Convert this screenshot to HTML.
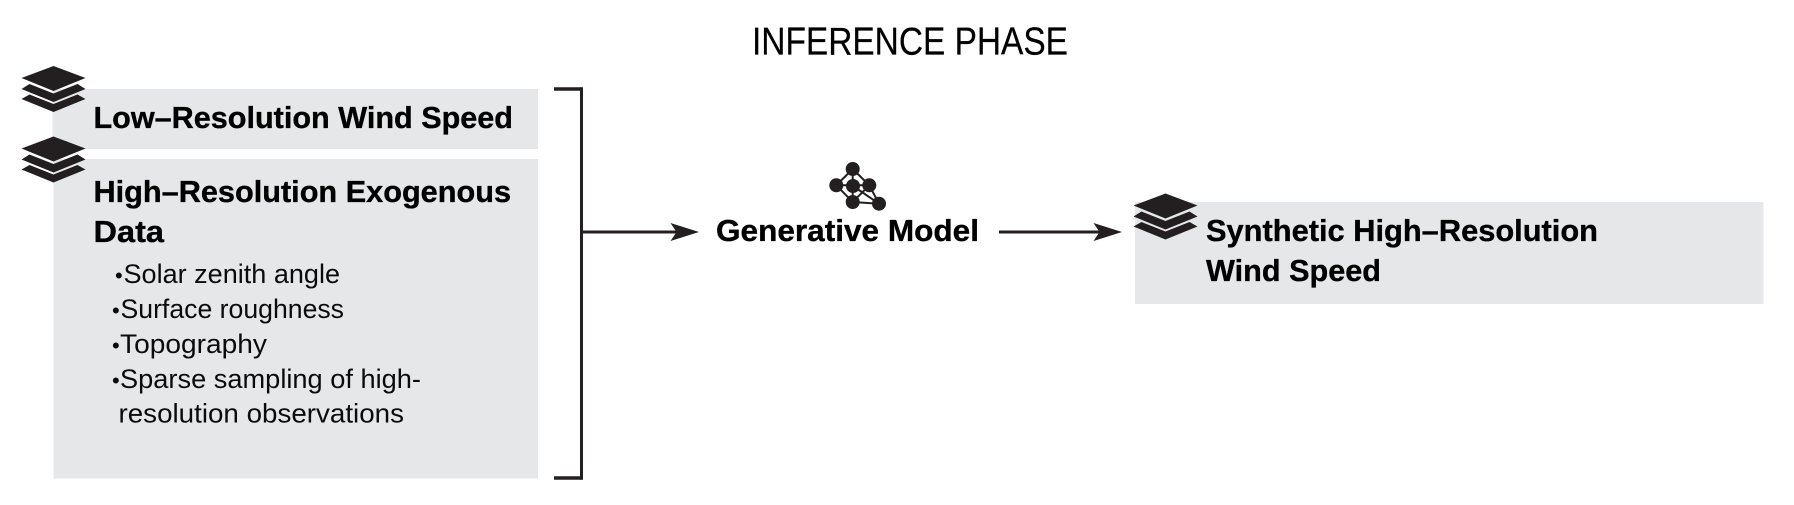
<!DOCTYPE html>
<html>
<head>
<meta charset="utf-8">
<style>
html,body{margin:0;padding:0;background:#fff;}
svg{display:block;}
text{font-family:"Liberation Sans",sans-serif;fill:#000;}
.b{font-weight:700;font-size:31px;stroke:#000;stroke-width:.35px;}
.r{font-size:27px;fill:#0b0b0b;}
.d{font-size:22px;fill:#0b0b0b;}
</style>
</head>
<body>
<svg width="1794" height="505" viewBox="0 0 1794 505" xmlns="http://www.w3.org/2000/svg">
<defs>
<g id="stack" fill="#231f20">
<path d="M32 0 L64 12 L32 25 L0 12 Z"/>
<path d="M8 18 L32 27.5 L56 18 L64 23 L32 36 L0 23 Z"/>
<path d="M8 28.5 L32 38 L56 28.5 L64 33 L32 46 L0 33 Z"/>
</g>
</defs>
<rect width="1794" height="505" fill="#fff"/>

<text x="752" y="54.5" style="font-size:39px;stroke:#000;stroke-width:.2px" textLength="316" lengthAdjust="spacingAndGlyphs">INFERENCE PHASE</text>

<rect x="52.5" y="89" width="485.5" height="60" fill="#e6e7e8"/>
<rect x="53.5" y="159" width="484.5" height="319.5" fill="#e6e7e8"/>
<rect x="1135" y="202" width="628.5" height="102" fill="#e6e7e8"/>

<use href="#stack" x="21.5" y="66"/>
<use href="#stack" x="21.5" y="136.5"/>
<use href="#stack" x="1133.5" y="193.5"/>

<text class="b" x="93.5" y="128" textLength="419.5" lengthAdjust="spacingAndGlyphs">Low–Resolution Wind Speed</text>
<text class="b" x="93.5" y="202" textLength="417.5" lengthAdjust="spacingAndGlyphs">High–Resolution Exogenous</text>
<text class="b" x="93.5" y="242" textLength="70.5" lengthAdjust="spacingAndGlyphs">Data</text>

<text class="d" x="115" y="283">•</text>
<text class="r" x="123.5" y="283" textLength="216.5" lengthAdjust="spacingAndGlyphs">Solar zenith angle</text>
<text class="d" x="112" y="318">•</text>
<text class="r" x="120.5" y="318" textLength="223.5" lengthAdjust="spacingAndGlyphs">Surface roughness</text>
<text class="d" x="112" y="353">•</text>
<text class="r" x="120" y="353" textLength="147" lengthAdjust="spacingAndGlyphs">Topography</text>
<text class="d" x="112" y="388">•</text>
<text class="r" x="120" y="388" textLength="301" lengthAdjust="spacingAndGlyphs">Sparse sampling of high-</text>
<text class="r" x="118.5" y="422.5" textLength="285.5" lengthAdjust="spacingAndGlyphs">resolution observations</text>

<path d="M554 89 H581.5 M554 478 H581.5" fill="none" stroke="#231f20" stroke-width="3.6"/>
<path d="M581.5 87.2 V479.8" fill="none" stroke="#231f20" stroke-width="3"/>
<path d="M581 232 H680" fill="none" stroke="#231f20" stroke-width="3"/>
<path d="M670.5 223 L699 232 L670.5 241 L676.5 232 Z" fill="#231f20"/>
<path d="M999 232 H1100" fill="none" stroke="#231f20" stroke-width="3"/>
<path d="M1093.5 223 L1122 232 L1093.5 241 L1099.5 232 Z" fill="#231f20"/>

<text class="b" x="716" y="241" textLength="263" lengthAdjust="spacingAndGlyphs">Generative Model</text>

<g stroke="#231f20" stroke-width="2" fill="none">
<path d="M852.7 169 L836.3 185.3 L852.7 202 L869.3 185.3 Z M852.7 169 V202 M836.3 185.3 H869.3 M853 186 L879 203.7 M852.7 202 L879 203.7 M869.3 185.3 L879 203.7"/>
</g>
<g fill="#231f20">
<circle cx="852.7" cy="169" r="7"/>
<circle cx="836.3" cy="185.3" r="7"/>
<circle cx="853" cy="186" r="7"/>
<circle cx="869.3" cy="185.3" r="7"/>
<circle cx="852.7" cy="202" r="7"/>
<circle cx="879" cy="203.7" r="7"/>
</g>

<text class="b" x="1206" y="241" textLength="392" lengthAdjust="spacingAndGlyphs">Synthetic High–Resolution</text>
<text class="b" x="1206" y="281" textLength="175" lengthAdjust="spacingAndGlyphs">Wind Speed</text>
</svg>
</body>
</html>
